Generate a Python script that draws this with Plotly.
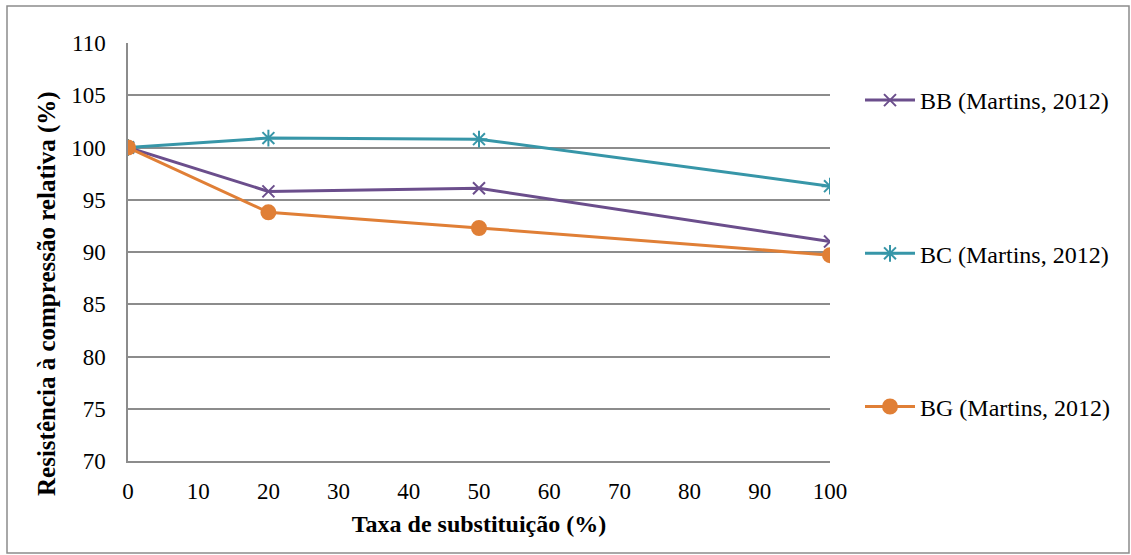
import plotly.graph_objects as go

taxa = [0, 20, 50, 100]
bb = [100, 95.8, 96.1, 91.0]
bc = [100, 100.9, 100.8, 96.3]
bg = [100, 93.8, 92.3, 89.7]

names = ["BB (Martins, 2012)", "BC (Martins, 2012)", "BG (Martins, 2012)"]
colors = ["#6B4E8C", "#3796A8", "#E07F36"]
symbols = ["x-thin-open", "asterisk-open", "circle"]
sizes = [12, 14, 14]

W, H = 1131, 555
L, R, T, B = 128, 301, 43, 94
pw, ph = W - L - R, H - T - B

fig = go.Figure()
for name, vals, c, s, sz in zip(names, [bb, bc, bg], colors, symbols, sizes):
    fig.add_trace(go.Scatter(
        x=taxa, y=vals, name=name, mode="lines+markers", legendgroup=name,
        line=dict(color=c, width=3),
        marker=dict(symbol=s, size=sz, color=c, line=dict(color=c, width=2)),
    ))

font = "Liberation Serif"

def px_x(p):
    return (p - L) / pw

def px_y(p):
    return (H - B - p) / ph

fig.add_shape(type="rect", xref="paper", yref="paper",
              x0=px_x(7), x1=px_x(1129), y0=px_y(553), y1=px_y(6),
              line=dict(color="#8c8c8c", width=1.5), fillcolor="rgba(0,0,0,0)")

# vertical axis title, placed below the plot's midline
fig.add_annotation(text="<b>Resistência à compressão relativa (%)</b>",
                   xref="paper", yref="paper", x=px_x(47), y=px_y(294),
                   xanchor="center", yanchor="middle", textangle=-90,
                   showarrow=False, font=dict(family=font, size=25, color="#000"))

fig.update_layout(
    width=W, height=H,
    margin=dict(l=L, r=R, t=T, b=B),
    paper_bgcolor="white", plot_bgcolor="white",
    font=dict(family=font, size=23, color="#000"),
    showlegend=True,
    legend=dict(x=px_x(860), y=px_y(78), xanchor="left", yanchor="top",
                font=dict(family=font, size=24), tracegroupgap=119,
                itemwidth=50, bgcolor="rgba(0,0,0,0)"),
    xaxis=dict(range=[0, 100], tickvals=list(range(0, 101, 10)),
               showgrid=False, showline=True, linecolor="#8c8c8c", linewidth=1.5,
               zeroline=False, ticks="outside", ticklen=9, tickcolor="rgba(0,0,0,0)",
               tickfont=dict(family=font, size=23),
               title=dict(text="<b>Taxa de substituição (%)</b>",
                          font=dict(family=font, size=24), standoff=12)),
    yaxis=dict(range=[70, 110], tickvals=list(range(70, 111, 5)),
               showgrid=True, gridcolor="#8c8c8c", gridwidth=1.5,
               showline=True, linecolor="#8c8c8c", linewidth=1.5,
               zeroline=False, ticks="outside", ticklen=16, tickcolor="rgba(0,0,0,0)",
               tickfont=dict(family=font, size=23)),
)

fig.write_html("out.html")
